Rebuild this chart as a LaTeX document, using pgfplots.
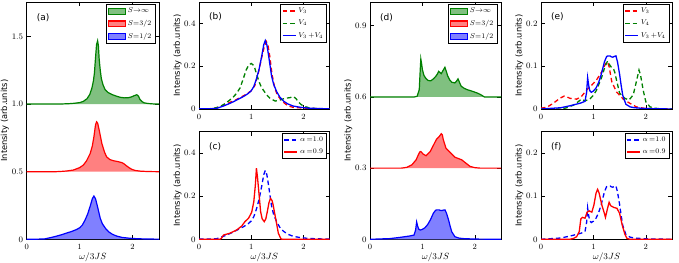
\documentclass[border=0pt]{standalone}
\usepackage{pgfplots}
\usepackage{pgfplotstable}
\usepackage{fontspec}
\pgfplotsset{compat=1.18}
\newfontfamily\dejavu{DejaVu Sans}
\definecolor{gC}{RGB}{0,128,0}
\definecolor{rC}{RGB}{255,0,0}
\definecolor{bC}{RGB}{0,0,255}
\definecolor{gF}{RGB}{128,192,128}
\definecolor{rF}{RGB}{255,128,128}
\definecolor{bF}{RGB}{128,128,255}

\pgfplotstableread{
x y
0 0.001
0.2 0.001
0.34 0.003
0.47 0.014
0.55 0.022
0.66 0.034
0.76 0.047
0.85 0.058
0.94 0.072
1.0 0.085
1.05 0.105
1.1 0.14
1.15 0.185
1.2 0.245
1.24 0.3
1.27 0.32
1.3 0.3
1.33 0.255
1.36 0.205
1.39 0.155
1.43 0.115
1.49 0.08
1.55 0.055
1.62 0.037
1.7 0.024
1.8 0.014
1.94 0.008
2.1 0.004
2.3 0.002
2.5 0.001
}\tblueL

\pgfplotstableread{
x y
0 0
0.38 0.003
0.57 0.008
0.76 0.014
0.84 0.018
0.87 0.039
0.89 0.073
0.91 0.055
0.93 0.043
0.96 0.039
1.0 0.042
1.05 0.049
1.1 0.062
1.15 0.081
1.21 0.11
1.25 0.122
1.27 0.124
1.32 0.124
1.34 0.122
1.37 0.121
1.4 0.123
1.43 0.124
1.46 0.11
1.5 0.081
1.53 0.055
1.56 0.032
1.62 0.011
1.7 0.005
1.78 0.003
2.0 0.001
2.5 0
}\tblueR

\pgfplotsset{
  legend image code/.code={\draw[#1] (0pt,0pt) -- (13pt,0pt);},
}
\pgfplotsset{
  myax/.style={
    scale only axis, anchor=south west,
    xmin=0, xmax=2.5, xtick={0,1,2},
    tick align=inside, xtick pos=both, ytick pos=both,
    major tick length=4pt,
    tick style={black, line width=0.5pt},
    axis line style={line width=0.6pt},
    tick label style={font=\fontsize{8.4}{10}\selectfont},
    xticklabel style={yshift=-1.5pt},
    ylabel style={at={(axis description cs:-0.165,0.5)},anchor=center,font=\dejavu\fontsize{8.3}{10}\selectfont},
    xlabel style={at={(axis description cs:0.5,0)},anchor=center,yshift=-18pt,font=\fontsize{9}{10}\selectfont},
    ylabel={Intensity (arb.units)},
    legend cell align=left,
    legend style={anchor=north east, draw=black, line width=0.5pt,
      font=\fontsize{6.8}{8}\selectfont, inner sep=1.5pt, row sep=2pt},
  },
}

\begin{document}
\begin{tikzpicture}
\useasboundingbox (0pt,0pt) rectangle (679pt,262pt);

% ---------------- (a)
\begin{axis}[myax, at={(26.7pt,22.7pt)}, width=132.3pt, height=237.3pt,
  ymin=0, ymax=1.755, ytick={0,0.5,1.0,1.5}, yticklabels={0,0.5,1.0,1.5},
  xlabel={$\omega/3JS$}, legend style={at={(0.97,0.99)}}]
\addplot[line width=1.2pt, draw=gC, fill=gF, area legend] coordinates {(0,1.0) (0.6,1.0) (0.8,1.003) (0.9,1.006) (1.0,1.011) (1.07,1.02) (1.14,1.04) (1.19,1.07) (1.23,1.115) (1.26,1.17) (1.28,1.23) (1.3,1.34) (1.32,1.44) (1.34,1.468) (1.355,1.43) (1.37,1.33) (1.39,1.25) (1.41,1.19) (1.44,1.145) (1.48,1.108) (1.54,1.085) (1.61,1.071) (1.7,1.058) (1.77,1.05) (1.85,1.046) (1.92,1.047) (1.98,1.053) (2.03,1.062) (2.08,1.069) (2.11,1.06) (2.14,1.035) (2.18,1.018) (2.22,1.009) (2.3,1.004) (2.4,1.001) (2.5,1.0)};
\addlegendentry{$S{\rightarrow}\infty$}
\addplot[line width=1.2pt, draw=rC, fill=rF, area legend] coordinates {(0,0.5) (0.55,0.5) (0.65,0.502) (0.75,0.505) (0.88,0.512) (1.0,0.53) (1.07,0.549) (1.13,0.58) (1.2,0.635) (1.24,0.69) (1.27,0.758) (1.3,0.845) (1.32,0.869) (1.34,0.86) (1.37,0.808) (1.42,0.709) (1.47,0.645) (1.51,0.61) (1.57,0.59) (1.64,0.581) (1.72,0.575) (1.8,0.567) (1.84,0.558) (1.88,0.545) (1.94,0.528) (1.99,0.517) (2.05,0.509) (2.15,0.504) (2.3,0.501) (2.5,0.5)};
\addlegendentry{$S{=}3/2$}
\addplot[line width=1.2pt, draw=bC, fill=bF, area legend] table {\tblueL};
\addlegendentry{$S{=}1/2$}
\node[anchor=north west, font=\dejavu\fontsize{9}{10}\selectfont] at (axis description cs:0.05,0.965) {(a)};
\end{axis}

% ---------------- (b)
\begin{axis}[myax, at={(199pt,153pt)}, width=130.5pt, height=107pt,
  ymin=0, ymax=0.5, ytick={0,0.2,0.4}, yticklabels={0,0.2,0.4},
  legend style={at={(0.98,0.98)}}]
\addplot[line width=1.3pt, dash pattern=on 4.5pt off 3pt, draw=rC] coordinates {(0,0) (0.2,0.001) (0.3,0.004) (0.4,0.01) (0.5,0.02) (0.6,0.032) (0.7,0.042) (0.8,0.055) (0.9,0.068) (1.0,0.085) (1.07,0.11) (1.13,0.16) (1.2,0.24) (1.25,0.29) (1.29,0.315) (1.32,0.3) (1.36,0.24) (1.4,0.16) (1.45,0.1) (1.5,0.065) (1.6,0.035) (1.7,0.015) (1.8,0.008) (1.9,0.006) (2.0,0.004) (2.2,0.002) (2.5,0.001)};
\addlegendentry{$V_3$}
\addplot[line width=1.3pt, dash pattern=on 4.5pt off 3pt, draw=gC] coordinates {(0,0) (0.25,0.001) (0.4,0.011) (0.5,0.025) (0.59,0.042) (0.66,0.057) (0.72,0.073) (0.79,0.1) (0.85,0.143) (0.9,0.18) (0.95,0.205) (1.0,0.213) (1.04,0.205) (1.07,0.19) (1.1,0.165) (1.14,0.135) (1.18,0.11) (1.23,0.089) (1.3,0.065) (1.36,0.05) (1.46,0.037) (1.55,0.042) (1.65,0.05) (1.74,0.053) (1.81,0.058) (1.86,0.048) (1.9,0.034) (1.95,0.022) (2.0,0.014) (2.1,0.006) (2.19,0.003) (2.3,0.001) (2.5,0)};
\addlegendentry{$V_4$}
\addplot[line width=1.3pt, draw=bC] table {\tblueL};
\addlegendentry{$V_3\,{+}V_4$}
\node[anchor=north west, font=\dejavu\fontsize{9}{10}\selectfont] at (axis description cs:0.05,0.93) {(b)};
\end{axis}

% ---------------- (c)
\begin{axis}[myax, at={(199pt,22.7pt)}, width=130.5pt, height=107.6pt,
  ymin=0, ymax=0.5, ytick={0,0.2,0.4}, yticklabels={0,0.2,0.4},
  xlabel={$\omega/3JS$}, legend style={at={(0.98,0.985)}}]
\addplot[line width=1.3pt, dash pattern=on 4.5pt off 3pt, draw=bC] table {\tblueL};
\addlegendentry{$\alpha\,{=}1.0$}
\addplot[line width=1.3pt, draw=rC] coordinates {(0,0) (0.4,0) (0.43,0.005) (0.47,0.02) (0.59,0.028) (0.72,0.043) (0.82,0.062) (0.88,0.082) (0.95,0.098) (1.01,0.126) (1.05,0.175) (1.08,0.253) (1.1,0.33) (1.12,0.29) (1.14,0.237) (1.18,0.129) (1.21,0.095) (1.25,0.082) (1.28,0.095) (1.31,0.13) (1.34,0.17) (1.37,0.19) (1.4,0.18) (1.42,0.16) (1.45,0.12) (1.48,0.082) (1.52,0.028) (1.57,0.002) (1.6,0) (2.5,0)};
\addlegendentry{$\alpha\,{=}0.9$}
\node[anchor=north west, font=\dejavu\fontsize{9}{10}\selectfont] at (axis description cs:0.05,0.93) {(c)};
\end{axis}

% ---------------- (d)
\begin{axis}[myax, at={(370pt,22.7pt)}, width=131pt, height=237.3pt,
  ymin=0, ymax=1.0, ytick={0,0.3,0.6,0.9}, yticklabels={0,0.3,0.6,0.9},
  xlabel={$\omega/3JS$}, legend style={at={(0.97,0.99)}}]
\addplot[line width=1.2pt, draw=gC, fill=gF, area legend] coordinates {(0,0.6) (0.85,0.6) (0.9,0.603) (0.94,0.631) (0.96,0.72) (0.97,0.76) (0.985,0.74) (1.0,0.715) (1.03,0.69) (1.07,0.677) (1.11,0.669) (1.16,0.668) (1.21,0.676) (1.26,0.688) (1.29,0.698) (1.31,0.708) (1.33,0.704) (1.36,0.698) (1.39,0.71) (1.43,0.725) (1.46,0.705) (1.48,0.69) (1.52,0.672) (1.56,0.662) (1.62,0.659) (1.65,0.666) (1.68,0.676) (1.71,0.66) (1.74,0.645) (1.8,0.636) (1.85,0.631) (1.95,0.624) (2.04,0.617) (2.1,0.611) (2.14,0.606) (2.18,0.6) (2.5,0.6)};
\addlegendentry{$S{\rightarrow}\infty$}
\addplot[line width=1.2pt, draw=rC, fill=rF, area legend] coordinates {(0,0.3) (0.6,0.3) (0.7,0.303) (0.8,0.314) (0.88,0.335) (0.92,0.355) (0.95,0.368) (0.97,0.37) (1.01,0.36) (1.07,0.352) (1.15,0.37) (1.23,0.405) (1.27,0.422) (1.32,0.433) (1.36,0.445) (1.38,0.44) (1.4,0.419) (1.45,0.384) (1.53,0.366) (1.62,0.346) (1.75,0.335) (1.83,0.321) (1.91,0.307) (2.0,0.302) (2.1,0.3) (2.5,0.3)};
\addlegendentry{$S{=}3/2$}
\addplot[line width=1.2pt, draw=bC, fill=bF, area legend] table {\tblueR};
\addlegendentry{$S{=}1/2$}
\node[anchor=north west, font=\dejavu\fontsize{9}{10}\selectfont] at (axis description cs:0.05,0.965) {(d)};
\end{axis}

% ---------------- (e)
\begin{axis}[myax, at={(541pt,153pt)}, width=131pt, height=107pt,
  ymin=0, ymax=0.25, ytick={0,0.1,0.2}, yticklabels={0,0.1,0.2},
  legend style={at={(0.98,0.98)}}]
\addplot[line width=1.3pt, dash pattern=on 4.5pt off 3pt, draw=rC] coordinates {(0,0.002) (0.11,0.004) (0.23,0.013) (0.36,0.025) (0.44,0.03) (0.5,0.028) (0.55,0.025) (0.68,0.023) (0.77,0.029) (0.87,0.044) (0.97,0.056) (1.06,0.068) (1.16,0.087) (1.22,0.103) (1.25,0.11) (1.28,0.106) (1.3,0.099) (1.35,0.064) (1.44,0.04) (1.57,0.023) (1.7,0.013) (1.82,0.005) (1.95,0.002) (2.1,0.001) (2.5,0)};
\addlegendentry{$V_3$}
\addplot[line width=1.3pt, dash pattern=on 4.5pt off 3pt, draw=gC] coordinates {(0,0) (0.4,0) (0.49,0.003) (0.62,0.009) (0.71,0.017) (0.77,0.023) (0.84,0.019) (0.93,0.023) (1.0,0.032) (1.06,0.044) (1.16,0.075) (1.22,0.099) (1.27,0.112) (1.31,0.103) (1.34,0.098) (1.38,0.095) (1.41,0.085) (1.44,0.068) (1.5,0.037) (1.6,0.025) (1.68,0.021) (1.76,0.033) (1.82,0.064) (1.87,0.091) (1.9,0.079) (1.95,0.044) (2.0,0.017) (2.08,0.005) (2.17,0.002) (2.3,0) (2.5,0)};
\addlegendentry{$V_4$}
\addplot[line width=1.3pt, draw=bC] table {\tblueR};
\addlegendentry{$V_3\,{+}V_4$}
\node[anchor=north west, font=\dejavu\fontsize{9}{10}\selectfont] at (axis description cs:0.05,0.93) {(e)};
\end{axis}

% ---------------- (f)
\begin{axis}[myax, at={(541pt,22.7pt)}, width=131pt, height=107.6pt,
  ymin=0, ymax=0.25, ytick={0,0.1,0.2}, yticklabels={0,0.1,0.2},
  xlabel={$\omega/3JS$}, legend style={at={(0.98,0.985)}}]
\addplot[line width=1.3pt, dash pattern=on 4.5pt off 3pt, draw=bC] table {\tblueR};
\addlegendentry{$\alpha\,{=}1.0$}
\addplot[line width=1.3pt, draw=rC] coordinates {(0,0) (0.55,0) (0.62,0.002) (0.68,0.006) (0.73,0.018) (0.76,0.047) (0.79,0.051) (0.84,0.049) (0.88,0.063) (0.92,0.066) (0.97,0.063) (1.01,0.08) (1.05,0.107) (1.08,0.116) (1.11,0.107) (1.16,0.08) (1.21,0.06) (1.23,0.051) (1.27,0.072) (1.3,0.086) (1.33,0.078) (1.39,0.074) (1.45,0.072) (1.5,0.06) (1.55,0.033) (1.6,0.012) (1.64,0.002) (1.7,0) (2.5,0)};
\addlegendentry{$\alpha\,{=}0.9$}
\node[anchor=north west, font=\dejavu\fontsize{9}{10}\selectfont] at (axis description cs:0.05,0.93) {(f)};
\end{axis}
\end{tikzpicture}
\end{document}
